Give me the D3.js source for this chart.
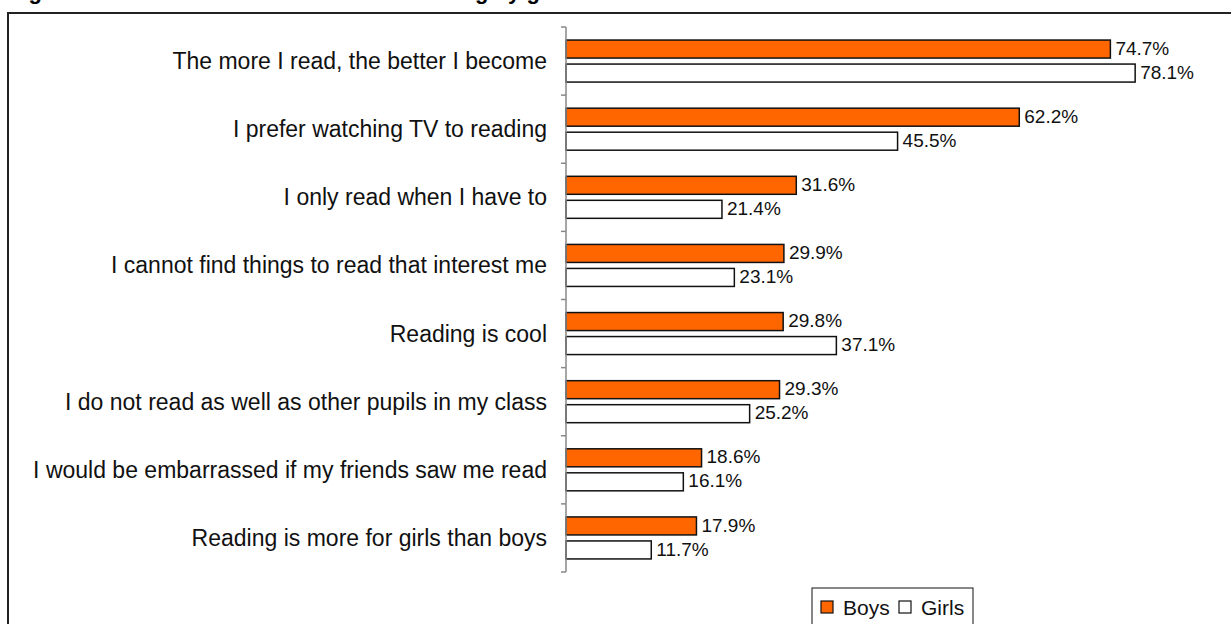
<!DOCTYPE html>
<html lang="en">
<head>
    <meta charset="UTF-8">
    <title>Attitudes towards reading by gender</title>
    <script src="https://d3js.org/d3.v7.min.js"></script>
    <style>
        body {
            margin: 0;
            font-family: Arial, "Liberation Sans", sans-serif;
            background: #fff;
        }
    </style>
</head>
<body>
    <div id="chart"></div>
    <script>
        const statements = [
            "The more I read, the better I become",
            "I prefer watching TV to reading",
            "I only read when I have to",
            "I cannot find things to read that interest me",
            "Reading is cool",
            "I do not read as well as other pupils in my class",
            "I would be embarrassed if my friends saw me read",
            "Reading is more for girls than boys"
        ];
        const seriesNames = ["Boys", "Girls"];
        const boys = [74.7, 62.2, 31.6, 29.9, 29.8, 29.3, 18.6, 17.9];
        const girls = [78.1, 45.5, 21.4, 23.1, 37.1, 25.2, 16.1, 11.7];
        const seriesColors = ["#FF6600", "#FFFFFF"];
        const title = "Figure 6: Children's attitudes towards reading by gender";

        const width = 1231, height = 624;
        const axisX = 566;

        const svg = d3.select("#chart").append("svg")
            .attr("width", width)
            .attr("height", height);

        // title, mostly cut off at the top edge
        svg.append("text")
            .attr("x", 9)
            .attr("y", -1)
            .attr("font-size", 22)
            .attr("font-weight", "bold")
            .text(title);

        // outer frame
        svg.append("rect")
            .attr("x", 8)
            .attr("y", 13)
            .attr("width", 1300)
            .attr("height", 700)
            .attr("fill", "none")
            .attr("stroke", "#222")
            .attr("stroke-width", 2);

        const x = d3.scaleLinear().domain([0, 80]).range([axisX, 1149]);
        const y = d3.scaleBand().domain(statements).range([27, 572]);
        const ySub = d3.scaleBand().domain(seriesNames)
            .range([0, y.step()])
            .paddingInner(0.25)
            .paddingOuter(0.544);

        const rows = statements.map((s, i) => ({ s, values: [boys[i], girls[i]] }));

        const groups = svg.selectAll(".row")
            .data(rows)
            .enter().append("g")
            .attr("transform", d => `translate(0,${y(d.s)})`);

        groups.selectAll("rect")
            .data(d => d.values.map((v, j) => ({ name: seriesNames[j], v, j })))
            .enter().append("rect")
            .attr("x", x(0))
            .attr("y", d => ySub(d.name))
            .attr("width", d => x(d.v) - x(0))
            .attr("height", ySub.bandwidth())
            .attr("fill", d => seriesColors[d.j])
            .attr("stroke", "#111")
            .attr("stroke-width", 1.5);

        groups.selectAll(".val")
            .data(d => d.values.map((v, j) => ({ name: seriesNames[j], v })))
            .enter().append("text")
            .attr("class", "val")
            .attr("x", d => x(d.v) + 5)
            .attr("y", d => ySub(d.name) + ySub.bandwidth() / 2 - 1)
            .attr("dy", "0.35em")
            .attr("font-size", 19)
            .attr("fill", "#111")
            .text(d => d.v.toFixed(1) + "%");

        // category axis
        const yAxis = svg.append("g")
            .attr("transform", `translate(${axisX},0)`);
        yAxis.append("line")
            .attr("y1", 27).attr("y2", 572)
            .attr("stroke", "#888").attr("stroke-width", 1.5);
        yAxis.selectAll(".tick")
            .data(statements.concat([null]))
            .enter().append("line")
            .attr("x1", -5).attr("x2", 0)
            .attr("y1", (d, i) => 27 + i * y.step())
            .attr("y2", (d, i) => 27 + i * y.step())
            .attr("stroke", "#888").attr("stroke-width", 1.5);

        svg.selectAll(".cat")
            .data(statements)
            .enter().append("text")
            .attr("class", "cat")
            .attr("x", 547)
            .attr("y", d => y(d) + y.bandwidth() / 2)
            .attr("dy", "0.35em")
            .attr("text-anchor", "end")
            .attr("font-size", 23)
            .attr("fill", "#111")
            .text(d => d);

        // legend
        const legend = svg.append("g");
        legend.append("rect")
            .attr("x", 812).attr("y", 588)
            .attr("width", 161).attr("height", 60)
            .attr("fill", "#fff").attr("stroke", "#111").attr("stroke-width", 1);
        const legendX = [821, 899];
        seriesNames.forEach((name, i) => {
            legend.append("rect")
                .attr("x", legendX[i]).attr("y", 601)
                .attr("width", 12).attr("height", 12)
                .attr("fill", seriesColors[i])
                .attr("stroke", "#111").attr("stroke-width", 1.2);
            legend.append("text")
                .attr("x", legendX[i] + 22).attr("y", 615)
                .attr("font-size", 21)
                .attr("fill", "#111")
                .text(name);
        });
    </script>
</body>
</html>
